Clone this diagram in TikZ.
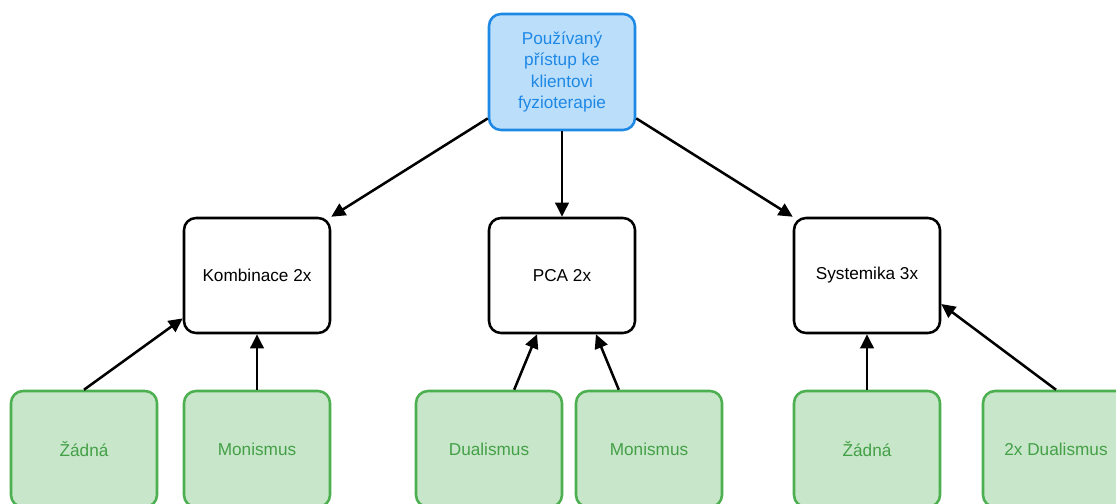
\documentclass[tikz,border=0pt]{standalone}
\usepackage{fontspec}
\setmainfont{Liberation Sans}
\usetikzlibrary{arrows.meta}
\definecolor{bfill}{HTML}{BBDEFB}
\definecolor{bdraw}{HTML}{1E88E5}
\definecolor{gfill}{HTML}{C8E6C9}
\definecolor{gdraw}{HTML}{4CAF50}
\definecolor{gtext}{HTML}{43A047}
\tikzset{
  box/.style={rectangle, rounded corners=9pt, line width=1.9pt, minimum width=109.5pt, inner sep=2pt, align=center, font=\fontsize{12.9pt}{15.9pt}\selectfont},
  topbox/.style={box, draw=bdraw, fill=bfill, text=bdraw, minimum height=87pt},
  midbox/.style={box, draw=black, fill=white, text=black, minimum height=86.25pt},
  leafbox/.style={box, draw=gdraw, fill=gfill, text=gtext, minimum height=87pt},
  conn/.style={line width=1.9pt, -{Triangle[length=10.5pt,width=10pt]}}
}
\begin{document}
\begin{tikzpicture}[x=0.75pt,y=-0.75pt]
\useasboundingbox (0,0) rectangle (1116,503);
\clip (0,0) rectangle (1116,503);
\fill[white] (0,0) rectangle (1116,503);
\node[topbox] (top) at (562,72) {Používaný\\přístup ke\\klientovi\\fyzioterapie};
\node[midbox] (komb) at (257,275.5) {Kombinace 2x};
\node[midbox] (pca) at (562,275.5) {PCA 2x};
\node[midbox] (syst) at (867,275.5) {Systemika 3x};
\node[leafbox] (z1) at (84,449) {Žádná};
\node[leafbox] (m1) at (257,449) {Monismus};
\node[leafbox] (d1) at (489,449) {Dualismus};
\node[leafbox] (m2) at (649,449) {Monismus};
\node[leafbox] (z2) at (867,449) {Žádná};
\node[leafbox] (d2) at (1056,449) {2x Dualismus};
\draw[conn] (top.212) -- (komb.north east);
\draw[conn] (top.south) -- (pca.north);
\draw[conn] (top.328) -- (syst.north west);
\draw[conn] (z1.north) -- (komb.210);
\draw[conn] (m1.north) -- (komb.south);
\draw[conn] (d1.67) -- (pca.247);
\draw[conn] (m2.117) -- (pca.300);
\draw[conn] (z2.north) -- (syst.south);
\draw[conn] (d2.north) -- (syst.339);
\end{tikzpicture}
\end{document}
